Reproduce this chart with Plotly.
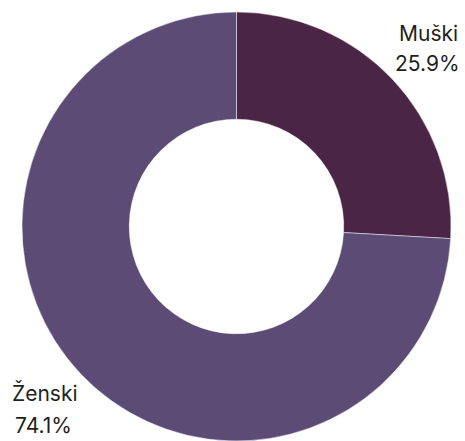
import plotly.graph_objects as go

labels = ["Muški", "Ženski"]
values = [25.9, 74.1]
colors = ["#4a2545", "#5c4b75"]

# label positions (paper coords) for name and percent lines
label_pos = {
    "Muški": ((428 / 465, 1 - 33.5 / 441), (427.5 / 465, 1 - 63.5 / 441)),
    "Ženski": ((45 / 465, 1 - 393 / 441), (43.5 / 465, 1 - 425 / 441)),
}

W, H = 465, 441
fig = go.Figure(
    go.Pie(
        labels=labels,
        values=values,
        hole=0.5,
        sort=False,
        direction="clockwise",
        rotation=0,
        marker=dict(colors=colors, line=dict(color="rgba(255,255,255,0.6)", width=0.8)),
        textinfo="none",
        hoverinfo="label+percent",
        domain=dict(x=[21 / W, 452 / W], y=[0, 1 - 12 / H]),
        showlegend=False,
    )
)

font = dict(family="Inter, Liberation Sans, Arial, sans-serif", size=21, color="#1f1f1f")
total = sum(values)
for lab, val in zip(labels, values):
    (nx, ny), (px, py) = label_pos[lab]
    fig.add_annotation(x=nx, y=ny, xref="paper", yref="paper", text=lab,
                       showarrow=False, xanchor="center", yanchor="middle", font=font)
    fig.add_annotation(x=px, y=py, xref="paper", yref="paper",
                       text=f"{val / total * 100:.1f}%",
                       showarrow=False, xanchor="center", yanchor="middle", font=font)

fig.update_layout(
    width=W,
    height=H,
    margin=dict(l=0, r=0, t=0, b=0),
    paper_bgcolor="white",
    plot_bgcolor="white",
)

fig.write_html(
    "out.html",
    config={"displayModeBar": False},
    post_script="document.body.style.margin='0';document.body.style.overflow='hidden';",
)
